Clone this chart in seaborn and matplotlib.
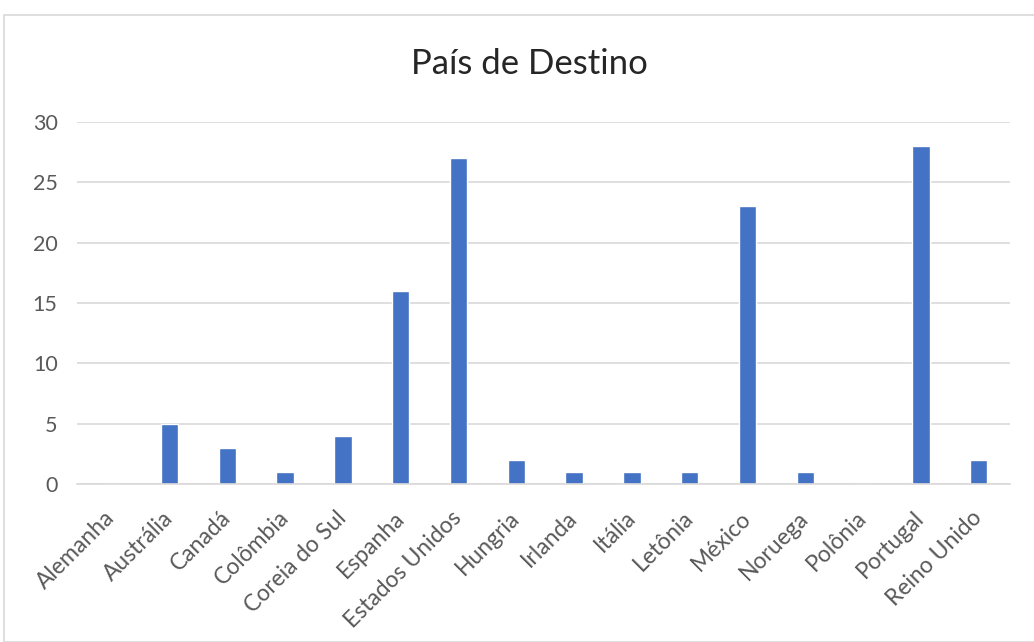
import matplotlib
matplotlib.use("Agg")
import matplotlib.pyplot as plt
import seaborn as sns
import pandas as pd
from matplotlib.patches import Rectangle

paises = ["Alemanha", "Austrália", "Canadá", "Colômbia", "Coreia do Sul", "Espanha",
          "Estados Unidos", "Hungria", "Irlanda", "Itália", "Letônia", "México",
          "Noruega", "Polônia", "Portugal", "Reino Unido"]
quantidade = [0, 5, 3, 1, 4, 16, 27, 2, 1, 1, 1, 23, 1, 0, 28, 2]
y_ticks = [0, 5, 10, 15, 20, 25, 30]

df = pd.DataFrame({"pais": paises, "qtd": quantidade})

sns.set_theme(style="white")
plt.rcParams["font.family"] = ["Lato", "DejaVu Sans"]

fig = plt.figure(figsize=(10.34, 6.42), dpi=100)
fig.patch.set_facecolor("white")
# chart frame
fig.add_artist(Rectangle((4 / 1034, 0), 1.2, 1 - 15 / 642, transform=fig.transFigure,
                         facecolor="white", edgecolor="#d9d9d9", linewidth=1.2,
                         zorder=-5))

ax = fig.add_axes([77 / 1034, 1 - 484 / 642, (1010 - 77) / 1034, (484 - 122) / 642])
sns.barplot(data=df, x="pais", y="qtd", color="#4472C4", width=0.3,
            saturation=1, ax=ax)

ax.set_ylim(0, 30)
ax.set_yticks(y_ticks)
ax.set_xlim(-0.6, len(paises) - 0.46)
ax.yaxis.grid(True, color="#d9d9d9", linewidth=1.2)
ax.set_axisbelow(True)
for s in ["top", "right", "left"]:
    ax.spines[s].set_visible(False)
ax.spines["bottom"].set_color("#d9d9d9")
ax.spines["bottom"].set_linewidth(1.2)
ax.tick_params(axis="both", length=0, colors="#595959", labelsize=15.5)
ax.tick_params(axis="y", pad=14)
ax.tick_params(axis="x", pad=22)
ax.set_xlabel("")
ax.set_ylabel("")
plt.setp(ax.get_xticklabels(), rotation=45, ha="right", va="center",
         rotation_mode="anchor", fontsize=16.5)
ax.set_facecolor("none")

fig.text(529 / 1034, 1 - 64 / 642, "País de Destino", ha="center", va="center",
         fontsize=25, color="#262626")

fig.savefig("out.png", dpi=100)
